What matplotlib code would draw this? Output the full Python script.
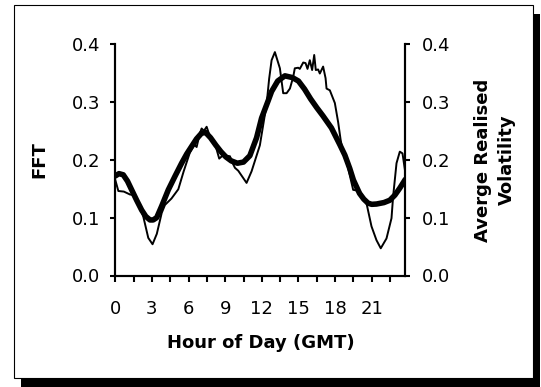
import matplotlib
matplotlib.use("Agg")
import matplotlib.pyplot as plt
from matplotlib.patches import Rectangle

plt.rcParams["font.family"] = "DejaVu Sans"

# Average realised volatility (thin line)
vol_hours = [0.0, 0.25, 0.7, 1.2, 1.5, 1.75, 2.29, 2.7, 3.05, 3.4, 3.8, 4.07,
             4.6, 5.16, 5.6, 6.1, 6.47, 6.66, 6.93, 7.07, 7.26, 7.48, 7.75,
             8.16, 8.51, 8.84, 9.39, 9.52, 9.8, 10.07, 10.75, 11.16, 11.84,
             12.39, 12.6, 12.8, 13.07, 13.48, 13.75, 14.03, 14.3, 14.57, 14.7,
             14.98, 15.11, 15.39, 15.58, 15.74, 15.93, 16.12, 16.29, 16.42,
             16.61, 16.75, 17.02, 17.22, 17.3, 17.57, 17.98, 18.25, 18.45,
             18.66, 18.93, 19.48, 20.02, 20.57, 20.98, 21.39, 21.74, 22.21,
             22.62, 22.75, 23.03, 23.3, 23.52, 23.75]
vol_values = [0.165, 0.146, 0.145, 0.140, 0.139, 0.133, 0.102, 0.065, 0.054,
              0.072, 0.108, 0.122, 0.133, 0.149, 0.180, 0.212, 0.226, 0.222,
              0.246, 0.254, 0.250, 0.257, 0.240, 0.228, 0.202, 0.208, 0.206,
              0.198, 0.186, 0.181, 0.160, 0.180, 0.225, 0.296, 0.340, 0.372,
              0.386, 0.358, 0.315, 0.315, 0.323, 0.343, 0.358, 0.359, 0.357,
              0.368, 0.367, 0.357, 0.372, 0.355, 0.381, 0.355, 0.356, 0.349,
              0.361, 0.341, 0.323, 0.320, 0.298, 0.265, 0.235, 0.211, 0.198,
              0.148, 0.146, 0.125, 0.085, 0.061, 0.047, 0.064, 0.099, 0.136,
              0.194, 0.214, 0.211, 0.178]

# FFT fit (thick line)
fft_hours = [0.0, 0.3, 0.65, 1.0, 1.34, 1.75, 2.16, 2.5, 2.84, 3.1, 3.39, 3.8,
             4.34, 4.9, 5.43, 5.85, 6.25, 6.65, 7.07, 7.4, 7.8, 8.24, 8.65,
             9.05, 9.5, 10.0, 10.5, 11.02, 11.57, 11.98, 12.52, 12.8, 13.3,
             13.89, 14.5, 15.0, 15.5, 16.0, 16.5, 17.0, 17.7, 18.39, 18.8,
             19.2, 19.5, 20.0, 20.35, 20.7, 21.0, 21.39, 22.0, 22.48, 22.9,
             23.3, 23.75]
fft_values = [0.172, 0.176, 0.174, 0.163, 0.148, 0.130, 0.113, 0.102, 0.096,
              0.096, 0.100, 0.120, 0.148, 0.172, 0.194, 0.210, 0.223, 0.236,
              0.246, 0.247, 0.238, 0.225, 0.214, 0.205, 0.198, 0.194, 0.196,
              0.207, 0.238, 0.272, 0.302, 0.318, 0.336, 0.345, 0.342, 0.336,
              0.322, 0.305, 0.290, 0.276, 0.255, 0.226, 0.208, 0.185, 0.165,
              0.142, 0.132, 0.125, 0.123, 0.1235, 0.126, 0.130, 0.139, 0.151,
              0.166]

x_ticks = [i * 1.5 for i in range(16)]
x_labels = ["0", "", "3", "", "6", "", "9", "", "12", "", "15", "", "18", "",
            "21", ""]
y_ticks = [0.0, 0.1, 0.2, 0.3, 0.4]

fig = plt.figure(figsize=(5.41, 3.87), dpi=100)

# frame with drop shadow
fig.patches.append(Rectangle((21 / 541, 0), 519 / 541, 373 / 387,
                             transform=fig.transFigure, facecolor="black",
                             edgecolor="none", zorder=-2))
fig.patches.append(Rectangle((14 / 541, 9 / 387), 519 / 541, 373 / 387,
                             transform=fig.transFigure, facecolor="white",
                             edgecolor="black", linewidth=0.8, zorder=-1))

ax = fig.add_axes([115.3 / 541, 111.5 / 387, 290 / 541, 231.5 / 387])
ax.patch.set_alpha(0)
ax2 = ax.twinx()

ax.plot(fft_hours, fft_values, color="black", linewidth=4,
        solid_joinstyle="round", solid_capstyle="round", zorder=3)
ax2.plot(vol_hours, vol_values, color="black", linewidth=1.4,
         solid_joinstyle="round")

for a in (ax, ax2):
    a.set_xlim(0, 23.75)
    a.set_ylim(0, 0.4)
    a.set_yticks(y_ticks)
    a.spines["top"].set_visible(False)
    for s in a.spines.values():
        s.set_linewidth(1.5)

ax.set_xticks(x_ticks)
ax.set_xticklabels(x_labels)
ax.set_yticklabels(["%.1f" % v for v in y_ticks])
ax2.set_yticklabels(["%.1f" % v for v in y_ticks])
ax.tick_params(axis="x", direction="out", length=4, width=1.5, pad=14,
               labelsize=13)
ax.tick_params(axis="y", direction="out", length=3.6, width=1.5, pad=7,
               labelsize=13)
ax2.tick_params(axis="y", direction="out", length=3.6, width=1.5, pad=8,
                labelsize=13)

fig.text(39 / 541, 1 - 160 / 387, "FFT", rotation=90, ha="center",
         va="center", fontsize=13, fontweight="bold")
fig.text(495 / 541, 1 - 160 / 387, "Averge Realised\nVolatility", rotation=90,
         ha="center", va="center", multialignment="center", fontsize=13,
         fontweight="bold", linespacing=1.45)
fig.text(261 / 541, 1 - 343 / 387, "Hour of Day (GMT)", ha="center",
         va="center", fontsize=13, fontweight="bold")

fig.savefig("out.png", dpi=100)
